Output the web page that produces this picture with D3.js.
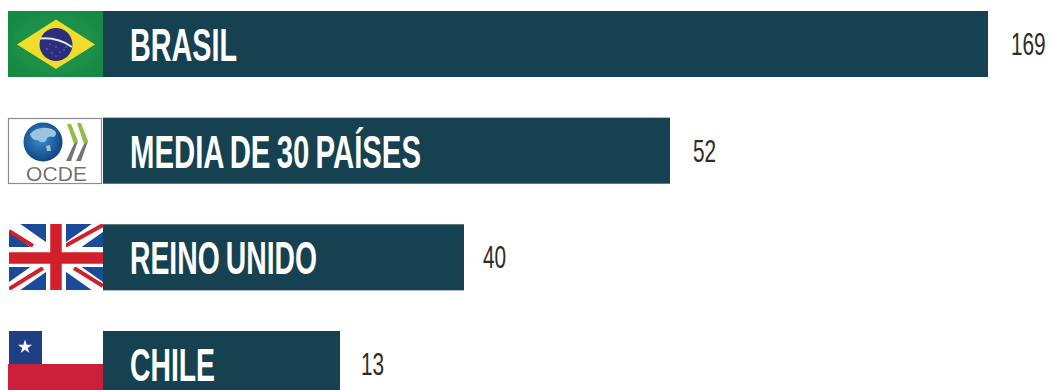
<!DOCTYPE html>
<html>
<head>
<meta charset="utf-8">
<script src="https://cdn.jsdelivr.net/npm/d3@7"></script>
<style>
html,body{margin:0;padding:0;background:#fff;overflow:hidden}
svg{display:block}
</style>
</head>
<body>
<div id="chart"></div>
<script>
const categories = ["BRASIL", "MEDIA DE 30 PAÍSES", "REINO UNIDO", "CHILE"];
const values = [169, 52, 40, 13];
const flagKinds = ["brasil", "ocde", "uk", "chile"];

// Bar lengths as published: the graphic does not use a proportional axis,
// so the value scale is piecewise between the four printed figures.
const valueDomain = [0, 13, 40, 52, 169];
const valueRange = [103, 340, 464, 670, 988];

const width = 1053, height = 390;
const ink = "#154150";

const svg = d3.select("#chart").append("svg")
  .attr("width", width).attr("height", height);

const defs = svg.append("defs");
defs.append("filter").attr("id", "soft")
  .append("feGaussianBlur").attr("stdDeviation", 0.45);
const globeFill = defs.append("radialGradient").attr("id", "globe").attr("cx", "45%").attr("cy", "42%").attr("r", "58%");
globeFill.append("stop").attr("offset", "0%").attr("stop-color", "#3d8dcb");
globeFill.append("stop").attr("offset", "100%").attr("stop-color", "#0f4585");
const greenFill = defs.append("radialGradient").attr("id", "green").attr("r", "70%");
greenFill.append("stop").attr("offset", "50%").attr("stop-color", "#1d9049");
greenFill.append("stop").attr("offset", "100%").attr("stop-color", "#128742");

const x = d3.scaleLinear().domain(valueDomain).range(valueRange);
const y = d3.scaleBand().domain(categories).range([11, 397]).paddingInner(0.381).paddingOuter(0);

const labelFont = "'Liberation Sans',sans-serif";

const row = svg.selectAll("g.row")
  .data(categories.map((c, i) => ({ c, v: values[i], kind: flagKinds[i] })))
  .join("g").attr("class", "row");

row.append("rect")
  .attr("x", x(0))
  .attr("y", d => y(d.c))
  .attr("width", d => x(d.v) - x(0))
  .attr("height", y.bandwidth())
  .attr("fill", ink);

// Category name, condensed horizontally to the poster-style width
const nameWidths = { "BRASIL": 107, "MEDIA DE 30 PAÍSES": 291, "REINO UNIDO": 187, "CHILE": 85 };
row.append("text")
  .attr("x", 130)
  .attr("y", d => y(d.c) + 50)
  .attr("font-family", labelFont)
  .attr("font-weight", 700)
  .attr("font-size", 47)
  .attr("word-spacing", -3)
  .attr("fill", "#fff")
  .attr("textLength", d => nameWidths[d.c])
  .attr("lengthAdjust", "spacingAndGlyphs")
  .text(d => d.c);

// Printed value to the right of each bar, squeezed to a condensed width
const valueGaps = { 169: 23, 52: 23, 40: 19, 13: 21 };
row.append("text")
  .attr("transform", d => `translate(${x(d.v) + valueGaps[d.v]},${y(d.c) + 44}) scale(0.66,1)`)
  .attr("font-family", labelFont)
  .attr("font-size", 31.5)
  .attr("fill", "#2b2b2b")
  .text(d => d.v);

// Flag and logo badges to the left of the bars
const flags = {
  brasil(g) {
    g.attr("filter", "url(#soft)");
    g.append("rect").attr("x", 8).attr("y", 11).attr("width", 95).attr("height", 66).attr("fill", "url(#green)");
    g.append("path").attr("d", "M17 44.5L56 19.5L95 44.5L56 69Z").attr("fill", "#f0dc2a");
    g.append("circle").attr("cx", 56).attr("cy", 44.5).attr("r", 16.5).attr("fill", "#2b2f7c");
    g.append("path").attr("d", "M40 38.5Q58 37 72 47").attr("fill", "none").attr("stroke", "#dfe8d8").attr("stroke-width", 2);
    g.selectAll("circle.star")
      .data([[47, 49], [52, 53], [56, 47], [60, 52], [64, 50], [50, 44], [56, 56], [66, 47]])
      .join("circle").attr("class", "star")
      .attr("cx", d => d[0]).attr("cy", d => d[1]).attr("r", 0.5).attr("fill", "#d9dcec");
  },
  ocde(g) {
    g.attr("filter", "url(#soft)");
    g.append("rect").attr("x", 8.5).attr("y", 118.5).attr("width", 93).attr("height", 65).attr("fill", "#fff").attr("stroke", "#8d8d8d").attr("stroke-width", 1.2);
    g.append("circle").attr("cx", 43).attr("cy", 142).attr("r", 19.5).attr("fill", "url(#globe)");
    g.append("path").attr("d", "M30 134Q38 125 52 129Q59 132 54 137Q47 135 46 141Q41 144 38 140Q32 141 30 134Z").attr("fill", "#9cc3e0");
    g.append("path").attr("d", "M46 146L50 145L51 151L47 151Z").attr("fill", "#9cc3e0");
    g.append("path").attr("d", "M67 124L71 124L78 141L74 144Z").attr("fill", "#8cc04a");
    g.append("path").attr("d", "M77 123L81 123L88 141L84 144Z").attr("fill", "#8cc04a");
    g.append("path").attr("d", "M74 144L78 141L71 161L66 161Z").attr("fill", "#77736f");
    g.append("path").attr("d", "M84 144L88 141L81 161L76 161Z").attr("fill", "#77736f");
    g.append("text").attr("x", 56.5).attr("y", 181).attr("text-anchor", "middle")
      .attr("font-family", "'Liberation Sans',sans-serif").attr("font-size", 19.5).attr("fill", "#77736f")
      .attr("textLength", 61).attr("lengthAdjust", "spacingAndGlyphs").text("OCDE");
  },
  uk(g) {
    const s = g.append("svg").attr("x", 9).attr("y", 224).attr("width", 94).attr("height", 66)
      .attr("viewBox", "0 0 94 66").attr("preserveAspectRatio", "none");
    s.append("rect").attr("width", 94).attr("height", 66).attr("fill", "#1b4a98");
    s.append("path").attr("d", "M0 0L94 66M94 0L0 66").attr("stroke", "#fff").attr("stroke-width", 13);
    s.append("path").attr("d", "M0 7L24 22M56 22L94 1M0 65L34 44M65 44L94 62").attr("stroke", "#d2202a").attr("stroke-width", 4);
    s.append("path").attr("d", "M47 0V66M0 33H94").attr("stroke", "#fff").attr("stroke-width", 20);
    s.append("path").attr("d", "M47 0V66M0 34H94").attr("stroke", "#d2202a").attr("stroke-width", 11.5);
  },
  chile(g) {
    g.append("rect").attr("x", 9).attr("y", 331).attr("width", 33).attr("height", 33).attr("fill", "#1f3f85");
    g.append("rect").attr("x", 8).attr("y", 364).attr("width", 95).attr("height", 26).attr("fill", "#cb2039");
    g.append("path").attr("transform", "translate(25,347)")
      .attr("d", d3.symbol(d3.symbolStar, 62)()).attr("fill", "#fff");
  }
};
row.each(function (d) {
  const badge = d3.select(this).append("g");
  flags[d.kind](badge);
});
</script>
</body>
</html>
